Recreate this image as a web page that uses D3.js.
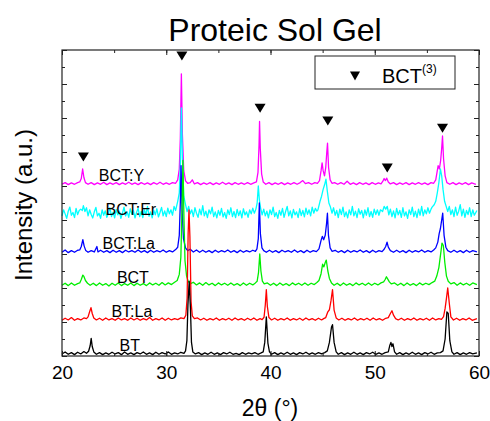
<!DOCTYPE html>
<html><head><meta charset="utf-8">
<script src="https://cdn.jsdelivr.net/npm/d3@7"></script>
<style>body{margin:0;background:#fff} svg{display:block} text{font-family:"Liberation Sans",Arial,sans-serif;fill:#000}</style>
</head><body><svg id="c" width="490" height="421"></svg>
<script>
// ---------- DATA ----------
const seriesNames = ["BT","BT:La","BCT","BCT:La","BCT:Er","BCT:Y"];
const seriesOffsets = [0,1,2,3,4,5];
const xTickValues = [20,30,40,50,60];
const markerTheta = [22.05,31.5,39.0,45.5,51.2,56.5];
const markerLevel = [5.85,8.82,7.29,6.91,5.53,6.7];
const legendLabel = "BCT";
const legendSup = "(3)";

const BT = [[20,0.06],[20.3,0.12],[20.6,0.05],[20.9,0.1],[21.2,0.04],[21.5,0.11],[21.8,0.06],[22.1,0.13],[22.35,0.08],
[22.55,0.14],[22.7,0.3],[22.8,0.52],[22.9,0.28],[23.05,0.12],
[23.3,0.05],[23.6,0.1],[23.9,0.04],[24.2,0.09],[24.5,0.05],[24.8,0.11],[25.1,0.06],[25.4,0.1],[25.7,0.04],[26.0,0.12],[26.3,0.05],[26.6,0.09],[26.9,0.04],[27.2,0.1],[27.5,0.06],[27.8,0.12],[28.1,0.05],[28.4,0.09],[28.7,0.04],[29.0,0.11],[29.3,0.05],[29.6,0.1],[29.9,0.06],[30.2,0.12],[30.5,0.05],[30.8,0.09],[31.1,0.06],[31.4,0.11],[31.7,0.08],
[31.85,0.15],[31.98,0.45],[32.08,1.5],[32.2,2.2],[32.32,1.4],[32.42,0.4],[32.55,0.12],
[32.8,0.06],[33.1,0.1],[33.4,0.04],[33.7,0.09],[34.0,0.05],[34.3,0.11],[34.6,0.05],[34.9,0.09],[35.2,0.04],[35.5,0.1],[35.8,0.06],[36.1,0.11],[36.4,0.05],[36.7,0.08],[37.0,0.04],[37.3,0.1],[37.6,0.05],[37.9,0.09],[38.2,0.06],[38.5,0.1],[38.8,0.05],[39.1,0.09],
[39.3,0.12],[39.45,0.4],[39.6,1.15],[39.75,0.38],[39.9,0.12],
[40.1,0.05],[40.4,0.1],[40.7,0.04],[41.0,0.09],[41.3,0.05],[41.6,0.11],[41.9,0.05],[42.2,0.09],[42.5,0.04],[42.8,0.1],[43.1,0.06],[43.4,0.11],[43.7,0.05],[44.0,0.09],[44.3,0.05],[44.6,0.1],[44.9,0.06],[45.2,0.1],
[45.45,0.15],[45.65,0.4],[45.85,0.85],[45.95,0.92],[46.1,0.4],[46.3,0.12],
[46.5,0.05],[46.8,0.1],[47.1,0.04],[47.4,0.09],[47.7,0.05],[48.0,0.11],[48.3,0.05],[48.6,0.09],[48.9,0.04],[49.2,0.1],[49.5,0.06],[49.8,0.11],[50.1,0.05],[50.4,0.09],[50.7,0.05],[51.0,0.1],
[51.3,0.12],[51.45,0.32],[51.55,0.4],[51.65,0.28],[51.75,0.36],[51.9,0.12],
[52.1,0.05],[52.4,0.1],[52.7,0.04],[53.0,0.09],[53.3,0.05],[53.6,0.11],[53.9,0.05],[54.2,0.09],[54.5,0.04],[54.8,0.1],[55.1,0.06],[55.4,0.11],[55.7,0.05],[56.0,0.09],[56.3,0.1],
[56.55,0.15],[56.75,0.5],[56.92,1.3],[57.05,1.25],[57.2,0.45],[57.4,0.12],
[57.6,0.05],[57.9,0.1],[58.2,0.04],[58.5,0.09],[58.8,0.05],[59.1,0.1],[59.4,0.06],[59.8,0.09]];

const BTLa = [[20,0.05],[20.3,0.11],[20.6,0.06],[20.9,0.13],[21.2,0.05],[21.5,0.1],[21.8,0.06],[22.1,0.12],[22.35,0.1],
[22.5,0.15],[22.65,0.3],[22.78,0.42],[22.9,0.25],[23.05,0.12],
[23.3,0.06],[23.6,0.11],[23.9,0.05],[24.2,0.12],[24.5,0.06],[24.8,0.1],[25.1,0.05],[25.4,0.12],[25.7,0.06],[26.0,0.1],[26.3,0.05],[26.6,0.12],[26.9,0.06],[27.2,0.11],[27.5,0.05],[27.8,0.1],[28.1,0.06],[28.4,0.13],[28.7,0.05],[29.0,0.1],[29.3,0.06],[29.6,0.12],[29.9,0.05],[30.2,0.11],[30.5,0.06],[30.8,0.1],[31.1,0.07],[31.4,0.12],[31.7,0.1],
[31.88,0.2],[32.0,0.7],[32.1,2.6],[32.18,3.3],[32.27,2.5],[32.38,0.6],[32.5,0.18],
[32.7,0.1],[33.0,0.12],[33.3,0.06],[33.6,0.11],[33.9,0.05],[34.2,0.1],[34.5,0.06],[34.8,0.12],[35.1,0.05],[35.4,0.1],[35.7,0.06],[36.0,0.11],[36.3,0.05],[36.6,0.12],[36.9,0.06],[37.2,0.1],[37.5,0.05],[37.8,0.11],[38.1,0.06],[38.4,0.12],[38.7,0.05],[39.0,0.1],[39.2,0.07],
[39.38,0.14],[39.5,0.5],[39.6,0.95],[39.7,0.45],[39.85,0.13],
[40.1,0.06],[40.4,0.11],[40.7,0.05],[41.0,0.1],[41.3,0.06],[41.6,0.12],[41.9,0.05],[42.2,0.1],[42.5,0.06],[42.8,0.11],[43.1,0.05],[43.4,0.12],[43.7,0.06],[44.0,0.1],[44.3,0.05],[44.6,0.11],[44.9,0.06],[45.1,0.1],
[45.3,0.13],[45.5,0.3],[45.65,0.36],[45.8,0.62],[45.95,0.95],[46.1,0.35],[46.3,0.12],
[46.55,0.06],[46.85,0.11],[47.15,0.05],[47.45,0.1],[47.75,0.06],[48.05,0.12],[48.35,0.05],[48.65,0.1],[48.95,0.06],[49.25,0.11],[49.55,0.05],[49.85,0.12],[50.15,0.06],[50.45,0.1],[50.75,0.05],[51.05,0.11],
[51.3,0.13],[51.5,0.25],[51.65,0.33],[51.8,0.2],[52.0,0.1],
[52.25,0.06],[52.55,0.11],[52.85,0.05],[53.15,0.1],[53.45,0.06],[53.75,0.12],[54.05,0.05],[54.35,0.1],[54.65,0.06],[54.95,0.11],[55.25,0.05],[55.55,0.12],[55.85,0.06],[56.15,0.1],[56.4,0.08],
[56.6,0.16],[56.75,0.4],[56.88,0.7],[57.0,1.0],[57.15,0.55],[57.3,0.15],
[57.55,0.06],[57.85,0.11],[58.15,0.05],[58.45,0.1],[58.75,0.06],[59.05,0.12],[59.35,0.05],[59.8,0.1]];

const BCT = [[20,0.08],[20.3,0.14],[20.6,0.07],[20.9,0.15],[21.2,0.08],[21.5,0.13],
[21.7,0.15],[21.85,0.25],[22.0,0.38],[22.1,0.34],[22.25,0.22],[22.45,0.14],
[22.7,0.08],[23.0,0.14],[23.3,0.07],[23.6,0.15],[23.9,0.08],[24.2,0.13],[24.5,0.06],[24.8,0.14],[25.1,0.08],[25.4,0.15],[25.7,0.07],[26.0,0.13],[26.3,0.08],[26.6,0.15],[26.9,0.07],[27.2,0.14],[27.5,0.08],[27.8,0.13],[28.1,0.07],[28.4,0.15],[28.7,0.09],[29.0,0.14],[29.3,0.08],[29.6,0.16],[29.9,0.09],[30.2,0.15],[30.5,0.1],[30.8,0.17],[31.05,0.22],
[31.25,0.4],[31.4,0.9],[31.5,2.2],[31.6,3.75],[31.7,2.0],[31.8,0.8],[31.95,0.35],[32.1,0.2],
[32.3,0.12],[32.6,0.17],[32.9,0.09],[33.2,0.15],[33.5,0.08],[33.8,0.16],[34.1,0.09],[34.4,0.14],[34.7,0.07],[35.0,0.15],[35.3,0.09],[35.6,0.14],[35.9,0.08],[36.2,0.15],[36.5,0.08],[36.8,0.13],[37.1,0.07],[37.4,0.15],[37.7,0.08],[38.0,0.14],[38.3,0.09],[38.55,0.15],
[38.72,0.2],[38.85,0.45],[38.97,1.0],[39.08,0.5],[39.22,0.2],[39.4,0.12],
[39.7,0.15],[40.0,0.08],[40.3,0.14],[40.6,0.07],[40.9,0.15],[41.2,0.08],[41.5,0.13],[41.8,0.07],[42.1,0.15],[42.4,0.09],[42.7,0.14],[43.0,0.08],[43.3,0.15],[43.6,0.08],[43.9,0.14],[44.2,0.1],[44.45,0.16],
[44.65,0.22],[44.85,0.42],[45.0,0.7],[45.12,0.62],[45.25,0.75],[45.35,0.82],[45.5,0.5],[45.65,0.28],[45.85,0.15],
[46.1,0.08],[46.4,0.14],[46.7,0.07],[47.0,0.15],[47.3,0.08],[47.6,0.13],[47.9,0.07],[48.2,0.15],[48.5,0.09],[48.8,0.14],[49.1,0.08],[49.4,0.15],[49.7,0.08],[50.0,0.14],[50.3,0.09],[50.6,0.15],
[50.85,0.18],[51.0,0.25],[51.12,0.33],[51.25,0.26],[51.4,0.18],[51.6,0.12],
[51.9,0.15],[52.2,0.08],[52.5,0.14],[52.8,0.07],[53.1,0.15],[53.4,0.08],[53.7,0.13],[54.0,0.07],[54.3,0.15],[54.6,0.09],[54.9,0.14],[55.2,0.1],[55.5,0.16],
[55.75,0.2],[55.95,0.35],[56.15,0.6],[56.3,0.95],[56.45,1.32],[56.58,1.25],[56.72,0.75],[56.88,0.35],[57.05,0.2],
[57.3,0.12],[57.6,0.16],[57.9,0.08],[58.2,0.15],[58.5,0.09],[58.8,0.14],[59.1,0.08],[59.4,0.15],[59.8,0.1]];

const BCTLa = [[20,0.05],[20.3,0.12],[20.6,0.04],[20.9,0.1],[21.2,0.05],[21.5,0.11],
[21.7,0.12],[21.85,0.22],[22.0,0.42],[22.12,0.24],[22.28,0.1],
[22.5,0.05],[22.8,0.1],[23.1,0.06],[23.35,0.22],[23.45,0.06],[23.7,0.11],[24.0,0.05],[24.3,0.1],[24.6,0.04],[24.9,0.11],[25.2,0.05],[25.5,0.1],[25.8,0.04],[26.1,0.11],[26.4,0.06],[26.7,0.1],[27.0,0.05],[27.3,0.12],[27.6,0.05],[27.9,0.1],[28.2,0.04],[28.5,0.11],[28.8,0.05],[29.1,0.1],[29.4,0.06],[29.7,0.12],[30.0,0.05],[30.3,0.1],[30.6,0.06],[30.9,0.13],
[31.1,0.2],[31.25,0.55],[31.35,1.5],[31.42,2.6],[31.52,1.3],[31.65,0.45],[31.85,0.18],
[32.05,0.1],[32.3,0.14],[32.6,0.06],[32.9,0.12],[33.2,0.05],[33.5,0.11],[33.8,0.05],[34.1,0.1],[34.4,0.04],[34.7,0.11],[35.0,0.05],[35.3,0.1],[35.6,0.06],[35.9,0.12],[36.2,0.05],[36.5,0.1],[36.8,0.04],[37.1,0.11],[37.4,0.05],[37.7,0.1],[38.0,0.06],[38.3,0.11],[38.55,0.08],
[38.7,0.15],[38.83,0.45],[38.93,1.5],[39.03,0.6],[39.18,0.18],[39.35,0.1],
[39.6,0.05],[39.9,0.11],[40.2,0.05],[40.5,0.1],[40.8,0.04],[41.1,0.11],[41.4,0.06],[41.7,0.1],[42.0,0.05],[42.3,0.12],[42.6,0.05],[42.9,0.1],[43.2,0.04],[43.5,0.11],[43.8,0.05],[44.1,0.1],[44.4,0.07],
[44.65,0.15],[44.85,0.4],[44.97,0.52],[45.1,0.42],[45.25,0.55],[45.38,0.9],[45.46,1.2],[45.56,0.55],[45.72,0.18],[45.9,0.08],
[46.2,0.11],[46.5,0.05],[46.8,0.1],[47.1,0.04],[47.4,0.11],[47.7,0.05],[48.0,0.1],[48.3,0.06],[48.6,0.12],[48.9,0.05],[49.2,0.1],[49.5,0.04],[49.8,0.11],[50.1,0.05],[50.4,0.1],[50.7,0.07],
[50.9,0.14],[51.05,0.22],[51.18,0.35],[51.3,0.2],[51.5,0.1],
[51.8,0.05],[52.1,0.11],[52.4,0.05],[52.7,0.1],[53.0,0.04],[53.3,0.11],[53.6,0.05],[53.9,0.1],[54.2,0.06],[54.5,0.12],[54.8,0.05],[55.1,0.1],[55.4,0.06],[55.65,0.12],
[55.85,0.18],[56.05,0.35],[56.18,0.6],[56.3,0.75],[56.42,1.0],[56.52,1.2],[56.65,0.55],[56.82,0.2],[57.0,0.1],
[57.3,0.05],[57.6,0.11],[57.9,0.05],[58.2,0.1],[58.5,0.04],[58.8,0.11],[59.1,0.05],[59.4,0.1],[59.8,0.06]];

const BCTEr = [[20,0.12],[20.15,0.3],[20.3,0.18],[20.45,0.05],[20.6,0.26],[20.75,0.38],[20.9,0.14],[21.05,0.22],[21.2,0.07],[21.35,0.34],[21.5,0.16],[21.65,0.28],
[21.8,0.32],[21.95,0.28],[22.05,0.42],[22.2,0.25],[22.35,0.36],[22.5,0.12],
[22.65,0.3],[22.8,0.16],[22.95,0.06],[23.1,0.24],[23.25,0.37],[23.4,0.12],[23.55,0.2],[23.7,0.05],[23.85,0.3],[24.0,0.14],[24.15,0.27],[24.3,0.08],[24.45,0.19],[24.6,0.36],[24.75,0.1],[24.9,0.23],[25.05,0.06],[25.2,0.31],[25.35,0.15],[25.5,0.26],[25.65,0.05],[25.8,0.2],[25.95,0.38],[26.1,0.12],[26.25,0.24],[26.4,0.08],[26.55,0.33],[26.7,0.17],[26.85,0.28],[27.0,0.06],[27.15,0.22],[27.3,0.35],[27.45,0.1],[27.6,0.25],[27.75,0.07],[27.9,0.3],[28.05,0.16],[28.2,0.4],[28.35,0.11],[28.5,0.24],[28.65,0.06],[28.8,0.29],[28.95,0.15],[29.1,0.33],[29.25,0.09],[29.4,0.22],[29.55,0.37],[29.7,0.12],[29.85,0.27],[30.0,0.1],[30.15,0.35],[30.3,0.18],[30.45,0.3],[30.6,0.14],[30.75,0.4],[30.9,0.28],
[31.1,0.55],[31.25,0.8],[31.35,1.6],[31.45,3.3],[31.55,1.8],[31.68,0.7],[31.85,0.45],[32.0,0.25],
[32.15,0.4],[32.3,0.18],[32.45,0.3],[32.6,0.1],[32.75,0.36],[32.9,0.2],[33.05,0.08],[33.2,0.32],[33.35,0.15],[33.5,0.42],[33.65,0.12],[33.8,0.26],[33.95,0.07],[34.1,0.3],[34.25,0.18],[34.4,0.38],[34.55,0.1],[34.7,0.24],[34.85,0.06],[35.0,0.28],[35.15,0.14],[35.3,0.34],[35.45,0.09],[35.6,0.22],[35.75,0.05],[35.9,0.3],[36.05,0.16],[36.2,0.36],[36.35,0.1],[36.5,0.25],[36.65,0.07],[36.8,0.31],[36.95,0.13],[37.1,0.27],[37.25,0.06],[37.4,0.33],[37.55,0.15],[37.7,0.24],[37.85,0.08],[38.0,0.3],[38.15,0.18],[38.3,0.35],[38.45,0.2],
[38.6,0.32],[38.72,0.5],[38.83,1.0],[38.93,0.6],[39.05,0.35],[39.2,0.15],
[39.35,0.32],[39.5,0.12],[39.65,0.26],[39.8,0.06],[39.95,0.3],[40.1,0.16],[40.25,0.38],[40.4,0.1],[40.55,0.22],[40.7,0.05],[40.85,0.28],[41.0,0.14],[41.15,0.34],[41.3,0.08],[41.45,0.25],[41.6,0.4],[41.75,0.12],[41.9,0.27],[42.05,0.06],[42.2,0.31],[42.35,0.15],[42.5,0.24],[42.65,0.07],[42.8,0.33],[42.95,0.13],[43.1,0.28],[43.25,0.09],[43.4,0.35],[43.55,0.17],[43.7,0.3],[43.85,0.12],[44.0,0.38],[44.15,0.2],[44.3,0.34],[44.45,0.26],
[44.55,0.3],[44.75,0.55],[44.9,0.7],[45.05,0.9],[45.2,1.05],[45.32,1.2],[45.45,0.85],[45.6,0.5],[45.75,0.38],[45.9,0.2],
[46.05,0.36],[46.2,0.14],[46.35,0.28],[46.5,0.07],[46.65,0.32],[46.8,0.16],[46.95,0.38],[47.1,0.1],[47.25,0.24],[47.4,0.06],[47.55,0.3],[47.7,0.15],[47.85,0.4],[48.0,0.12],[48.15,0.26],[48.3,0.07],[48.45,0.33],[48.6,0.17],[48.75,0.28],[48.9,0.06],[49.05,0.3],[49.2,0.14],[49.35,0.36],[49.5,0.1],[49.65,0.25],[49.8,0.08],[49.95,0.32],[50.1,0.16],[50.25,0.3],[50.4,0.14],
[50.55,0.3],[50.75,0.25],[50.9,0.4],[51.05,0.32],[51.2,0.4],[51.35,0.15],
[51.5,0.32],[51.65,0.1],[51.8,0.27],[51.95,0.06],[52.1,0.34],[52.25,0.15],[52.4,0.28],[52.55,0.08],[52.7,0.36],[52.85,0.12],[53.0,0.24],[53.15,0.05],[53.3,0.3],[53.45,0.16],[53.6,0.38],[53.75,0.1],[53.9,0.26],[54.05,0.07],[54.2,0.32],[54.35,0.14],[54.5,0.4],[54.65,0.12],[54.8,0.3],[54.95,0.18],[55.1,0.36],[55.25,0.2],[55.4,0.32],
[55.5,0.38],[55.7,0.45],[55.85,0.55],[56.0,0.8],[56.15,1.1],[56.3,1.5],[56.42,1.3],[56.55,0.9],[56.7,0.55],[56.85,0.4],[57.0,0.25],
[57.15,0.4],[57.3,0.16],[57.45,0.3],[57.6,0.1],[57.75,0.38],[57.9,0.14],[58.05,0.26],[58.2,0.45],[58.35,0.12],[58.5,0.32],[58.65,0.08],[58.8,0.28],[58.95,0.16],[59.1,0.36],[59.25,0.1],[59.4,0.3],[59.55,0.14],[59.8,0.28]];

const BCTY = [[20,0.05],[20.3,0.1],[20.6,0.04],[20.9,0.09],[21.2,0.05],[21.5,0.1],
[21.7,0.12],[21.85,0.22],[21.98,0.5],[22.1,0.25],[22.25,0.1],
[22.5,0.05],[22.8,0.1],[23.1,0.04],[23.4,0.09],[23.7,0.05],[24.0,0.11],[24.3,0.04],[24.6,0.09],[24.9,0.05],[25.2,0.1],[25.5,0.04],[25.8,0.09],[26.1,0.05],[26.4,0.11],[26.7,0.05],[27.0,0.09],[27.3,0.04],[27.6,0.1],[27.9,0.05],[28.2,0.09],[28.5,0.04],[28.8,0.1],[29.1,0.05],[29.4,0.11],[29.7,0.05],[30.0,0.09],[30.3,0.05],[30.6,0.1],[30.9,0.08],
[31.1,0.18],[31.25,0.5],[31.35,1.4],[31.45,3.3],[31.55,1.5],[31.68,0.45],[31.85,0.15],
[32.05,0.08],[32.3,0.1],[32.5,0.18],[32.7,0.06],[33.0,0.1],[33.3,0.04],[33.6,0.09],[33.9,0.05],[34.2,0.1],[34.5,0.04],[34.8,0.09],[35.1,0.05],[35.4,0.11],[35.7,0.05],[36.0,0.09],[36.3,0.04],[36.6,0.1],[36.9,0.05],[37.2,0.09],[37.5,0.05],[37.8,0.1],[38.1,0.05],[38.4,0.09],
[38.65,0.12],[38.8,0.4],[38.9,1.2],[38.95,1.9],[39.02,1.1],[39.15,0.35],[39.3,0.12],
[39.55,0.05],[39.85,0.1],[40.15,0.04],[40.45,0.09],[40.75,0.05],[41.05,0.1],[41.35,0.04],[41.65,0.09],[41.95,0.05],[42.25,0.1],[42.55,0.05],[42.85,0.1],[43.1,0.16],[43.35,0.07],[43.65,0.1],[43.95,0.05],[44.25,0.1],[44.5,0.08],
[44.7,0.16],[44.85,0.45],[44.95,0.68],[45.05,0.45],[45.18,0.3],[45.3,0.55],[45.4,1.0],[45.47,1.26],[45.57,0.55],[45.72,0.18],[45.9,0.08],
[46.15,0.1],[46.45,0.05],[46.75,0.1],[47.05,0.05],[47.35,0.14],[47.65,0.05],[47.95,0.09],[48.25,0.04],[48.55,0.1],[48.85,0.05],[49.15,0.09],[49.45,0.04],[49.75,0.1],[50.05,0.05],[50.35,0.09],[50.6,0.06],
[50.78,0.14],[50.9,0.22],[51.02,0.16],[51.15,0.23],[51.3,0.12],[51.5,0.06],
[51.8,0.1],[52.1,0.04],[52.4,0.09],[52.7,0.05],[53.0,0.1],[53.3,0.04],[53.6,0.09],[53.9,0.05],[54.2,0.1],[54.5,0.05],[54.8,0.09],[55.1,0.04],[55.4,0.1],[55.65,0.08],
[55.85,0.18],[56.0,0.45],[56.08,0.6],[56.2,0.5],[56.32,0.75],[56.42,1.1],[56.5,1.47],[56.6,0.8],[56.75,0.3],[56.92,0.1],
[57.2,0.05],[57.5,0.1],[57.8,0.04],[58.1,0.09],[58.4,0.05],[58.7,0.1],[59.0,0.04],[59.3,0.09],[59.7,0.05]];

const seriesData = [BT, BTLa, BCT, BCTLa, BCTEr, BCTY];

// ---------- LAYOUT / STYLE ----------
const colors = ["#000000","#ff0000","#00ee00","#0000ff","#00ffff","#ff00ff"];
const labelTheta = [26.5,26.7,26.8,26.4,26.6,25.7];
const L = 62, R = 479, T = 50, B = 356;
const svg = d3.select("#c");
const x = d3.scaleLinear().domain([20,60]).range([L,R]);
const y = d3.scaleLinear().domain([0,9]).range([B,T]);

svg.append("text").attr("x",275).attr("y",41).attr("text-anchor","middle")
  .style("font-size","32px").text("Proteic Sol Gel");

const line = d3.line().x(d=>x(d[0])).y(d=>y(d[1]));
for (let i = seriesData.length-1; i >= 0; i--) {
  const off = seriesOffsets[i];
  svg.append("path")
    .datum(seriesData[i].map(p=>[p[0], p[1]+off]))
    .attr("fill","none").attr("stroke",colors[i]).attr("stroke-width",1.3)
    .attr("stroke-linejoin","round").attr("d",line);
}

seriesNames.forEach((n,i)=>{
  svg.append("text").attr("x",x(labelTheta[i])).attr("y",y(seriesOffsets[i])-5)
    .attr("text-anchor","middle").style("font-size","16px").text(n);
});

const tri = (cx,cy,w,h)=>`M${cx-w/2},${cy-h/2}L${cx+w/2},${cy-h/2}L${cx},${cy+h/2}Z`;
markerTheta.forEach((t,i)=>{
  svg.append("path").attr("d",tri(x(t),y(markerLevel[i]),11,9)).attr("fill","#000");
});

const minorX = d3.range(20,60.01,5);
const minorY = d3.range(0,9.01,0.5);
const majorY = d3.range(0,9.01,1);
const g = svg.append("g");
function ticks(sel){ sel.select(".domain").remove(); sel.selectAll("line").attr("stroke","#222"); }
g.append("g").attr("transform",`translate(0,${B})`)
  .call(d3.axisBottom(x).tickValues(minorX).tickSize(-3).tickFormat("")).call(ticks);
g.append("g").attr("transform",`translate(0,${B})`)
  .call(d3.axisBottom(x).tickValues(xTickValues).tickSize(-5).tickPadding(10).tickFormat(d3.format("d"))).call(ticks)
  .selectAll("text").style("font-size","19px").style("font-family","'Liberation Sans',Arial,sans-serif").attr("fill","#000");
g.append("g").attr("transform",`translate(0,${T})`)
  .call(d3.axisTop(x).tickValues(minorX).tickSize(-3).tickFormat("")).call(ticks);
g.append("g").attr("transform",`translate(0,${T})`)
  .call(d3.axisTop(x).tickValues(xTickValues).tickSize(-5).tickFormat("")).call(ticks);
g.append("g").attr("transform",`translate(${L},0)`)
  .call(d3.axisLeft(y).tickValues(minorY).tickSize(-3).tickFormat("")).call(ticks);
g.append("g").attr("transform",`translate(${L},0)`)
  .call(d3.axisLeft(y).tickValues(majorY).tickSize(-5).tickFormat("")).call(ticks);
g.append("g").attr("transform",`translate(${R},0)`)
  .call(d3.axisRight(y).tickValues(minorY).tickSize(-3).tickFormat("")).call(ticks);
g.append("g").attr("transform",`translate(${R},0)`)
  .call(d3.axisRight(y).tickValues(majorY).tickSize(-5).tickFormat("")).call(ticks);
svg.append("rect").attr("x",L).attr("y",T).attr("width",R-L).attr("height",B-T)
  .attr("fill","none").attr("stroke","#222").attr("stroke-width",1.2);

svg.append("text").attr("x",270).attr("y",416).attr("text-anchor","middle")
  .style("font-size","23px").text("2θ (°)");
svg.append("text").attr("transform","translate(32,205) rotate(-90)").attr("text-anchor","middle")
  .style("font-size","24px").text("Intensity (a.u.)");

svg.append("rect").attr("x",315).attr("y",56).attr("width",140).attr("height",33)
  .attr("fill","#fff").attr("stroke","#222").attr("stroke-width",1);
svg.append("path").attr("d",tri(355,76,10,9)).attr("fill","#000");
const lt = svg.append("text").attr("x",382).attr("y",83).style("font-size","20px");
lt.append("tspan").text(legendLabel);
lt.append("tspan").attr("dy",-10).style("font-size","12px").text(legendSup);
</script></body></html>
